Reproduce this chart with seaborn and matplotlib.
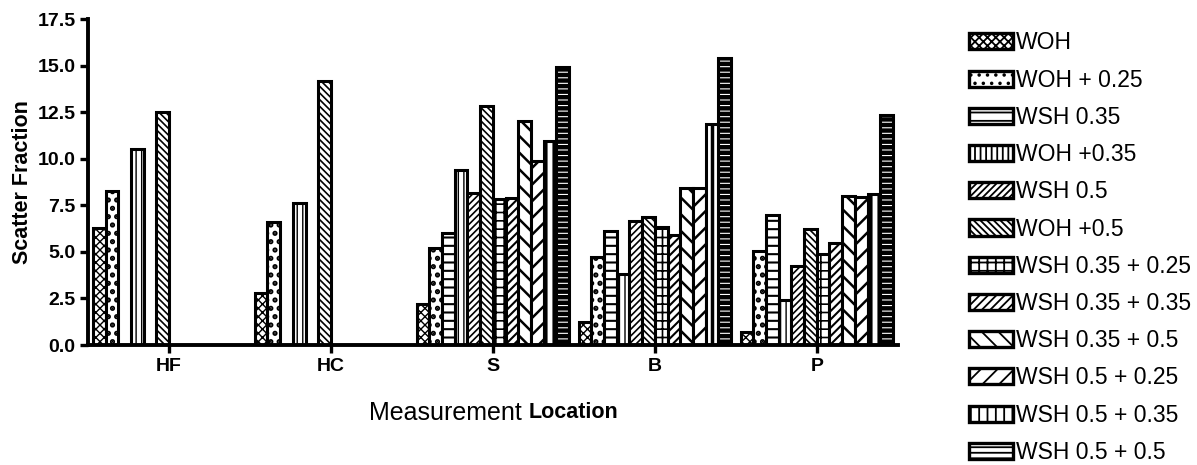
import numpy as np
import pandas as pd
import matplotlib
matplotlib.use("Agg")
import matplotlib.pyplot as plt
import seaborn as sns
from matplotlib.patches import Patch

locations = ["HF", "HC", "S", "B", "P"]
series = ["WOH", "WOH + 0.25", "WSH 0.35", "WOH +0.35", "WSH 0.5", "WOH +0.5",
          "WSH 0.35 + 0.25", "WSH 0.35 + 0.35", "WSH 0.35 + 0.5",
          "WSH 0.5 + 0.25", "WSH 0.5 + 0.35", "WSH 0.5 + 0.5"]
nan = np.nan
val_HF = [6.3, 8.25, nan, 10.55, nan, 12.5, nan, nan, nan, nan, nan, nan]
val_HC = [2.8, 6.6, nan, 7.6, nan, 14.15, nan, nan, nan, nan, nan, nan]
val_S = [2.2, 5.2, 6.0, 9.4, 8.15, 12.85, 7.85, 7.9, 12.05, 9.9, 10.95, 14.95]
val_B = [1.25, 4.75, 6.1, 3.8, 6.65, 6.9, 6.35, 5.9, 8.45, 8.45, 11.85, 15.4]
val_P = [0.7, 5.05, 6.98, 2.4, 4.25, 6.25, 4.9, 5.5, 8.0, 7.95, 8.1, 12.35]
yticks = [0.0, 2.5, 5.0, 7.5, 10.0, 12.5, 15.0, 17.5]

hatches = ["xxxx", "..", "--", "|||", "/////", "\\\\\\\\\\",
           "++", "////", "\\\\", "//", "||", "---"]
hatch_lw = [1.0, 2.5, 1.5, 1.0, 1.2, 1.2, 1.2, 1.5, 1.8, 1.8, 2.5, 3.2]

rows = []
for loc, vals in zip(locations, [val_HF, val_HC, val_S, val_B, val_P]):
    for s, v in zip(series, vals):
        rows.append({"Location": loc, "Series": s, "Value": v})
df = pd.DataFrame(rows)

sns.set_style("ticks", {"text.color": "black", "axes.edgecolor": "black",
                        "xtick.color": "black", "ytick.color": "black",
                        "axes.labelcolor": "black"})
plt.rcParams["font.family"] = ["Liberation Sans", "DejaVu Sans"]
plt.rcParams["hatch.linewidth"] = 1.3
plt.rcParams["hatch.color"] = "black"

fig = plt.figure(figsize=(11.97, 4.65), dpi=100)
ax = fig.add_axes([0.0735, 0.258, 0.6765, 0.701])

sns.barplot(data=df, x="Location", y="Value", hue="Series", order=locations,
            hue_order=series, width=0.94, gap=0, dodge=True, errorbar=None,
            palette=["white"] * len(series), edgecolor="black", linewidth=2.2,
            legend=False, ax=ax)

for cont, h, hl in zip(ax.containers, hatches, hatch_lw):
    for p in cont.patches:
        p.set_hatch(h)
        p.set_edgecolor("black")
        p.set_facecolor("white")
        if hasattr(p, "set_hatch_linewidth"):
            p.set_hatch_linewidth(hl)

ax.set_xlim(-0.5, 4.5)
ax.set_ylim(0, 17.5)
ax.set_yticks(yticks)
ax.set_yticklabels([f"{t:.1f}" for t in yticks], fontsize=14, fontweight="bold")
ax.set_xticks(range(len(locations)))
ax.set_xticklabels(locations, fontsize=14, fontweight="bold")
ax.tick_params(axis="both", width=2.4, length=6, direction="out", pad=3)
for sp in ["left", "bottom"]:
    ax.spines[sp].set_linewidth(2.8)
sns.despine(ax=ax)
ax.set_ylabel("Scatter Fraction", fontsize=15.5, fontweight="bold", labelpad=3)
ax.set_xlabel("")

fig.text(0.436, 0.112, "Measurement", fontsize=18, ha="right", va="center")
fig.text(0.442, 0.112, "Location", fontsize=15.5, ha="left", va="center", fontweight="bold")

handles = []
for h, hl in zip(hatches, hatch_lw):
    ph = Patch(facecolor="white", edgecolor="black", hatch=h, linewidth=2.4)
    if hasattr(ph, "set_hatch_linewidth"):
        ph.set_hatch_linewidth(hl)
    handles.append(ph)
leg = fig.legend(handles, series, loc="upper left", bbox_to_anchor=(0.802, 0.952),
                 frameon=False, handlelength=1.9, handleheight=0.7,
                 handletextpad=0.15, labelspacing=0.62, borderaxespad=0,
                 prop={"family": ["Liberation Sans", "DejaVu Sans"], "size": 16.5})

fig.savefig("out.png", dpi=100)
